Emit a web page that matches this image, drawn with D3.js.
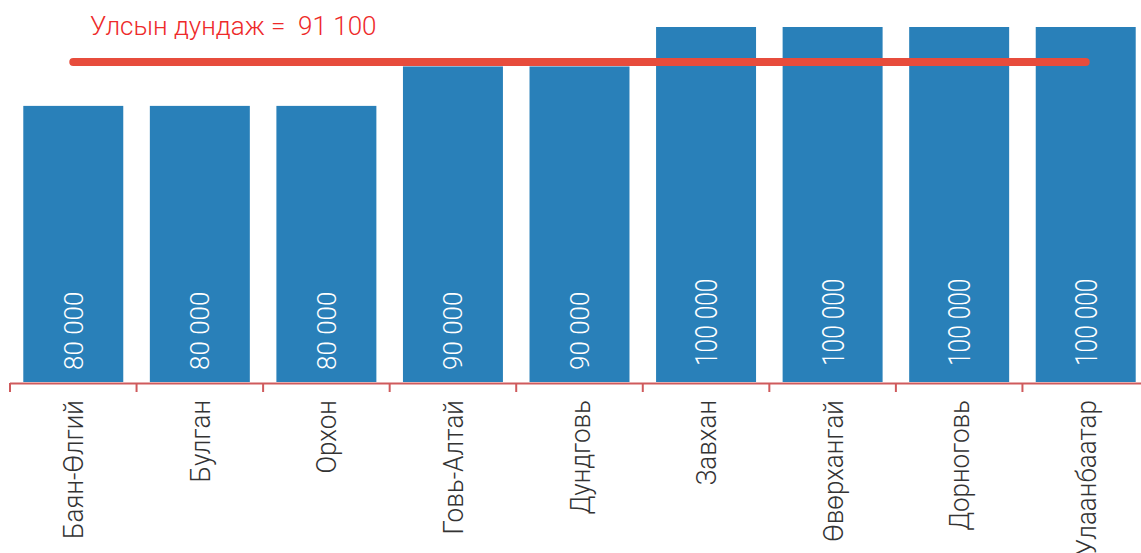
<!DOCTYPE html>
<html>
<head>
<meta charset="utf-8">
<script src="https://cdn.jsdelivr.net/npm/d3@7"></script>
<style>
  html, body { margin: 0; padding: 0; background: #ffffff; }
  svg { display: block; }
  text { font-family: Roboto, "Noto Sans", sans-serif; }
</style>
</head>
<body>
<svg id="chart" width="1141" height="553"></svg>
<script>
const categories = ["Баян-Өлгий", "Булган", "Орхон", "Говь-Алтай", "Дундговь", "Завхан", "Өвөрхангай", "Дорноговь", "Улаанбаатар"];
const values = [80000, 80000, 80000, 90000, 90000, 100000, 100000, 100000, 100000];
const valueLabels = ["80 000", "80 000", "80 000", "90 000", "90 000", "100 000", "100 000", "100 000", "100 000"];
const nationalAverage = 91100;
const averageLabel = "Улсын дундаж =  91 100";

const svg = d3.select("#chart");
const W = 1141, H = 553;
const baseline = 382;

const x = d3.scaleBand()
  .domain(categories)
  .range([10, 1149])
  .paddingInner(0.21)
  .paddingOuter(0.105);

const y = d3.scaleLinear()
  .domain([10000, 100000])
  .range([baseline, 27]);

const data = categories.map((c, i) => ({ c, v: values[i], label: valueLabels[i] }));

// bars
svg.append("g").selectAll("rect")
  .data(data).join("rect")
  .attr("x", d => x(d.c))
  .attr("y", d => y(d.v))
  .attr("width", x.bandwidth())
  .attr("height", d => baseline - y(d.v))
  .attr("fill", "#2980b9");

// value labels inside bars (longer labels drawn taller but condensed)
function valueStyle(label) {
  return label.length > 6 ? { size: 31, sx: 0.79, off: 11, bottom: 16 } : { size: 26, sx: 1, off: 9.3, bottom: 12 };
}
svg.append("g").selectAll("text")
  .data(data).join("text")
  .attr("transform", d => {
    const s = valueStyle(d.label);
    return `translate(${x(d.c) + x.bandwidth() / 2 + s.off},${baseline - s.bottom}) rotate(-90) scale(${s.sx},1)`;
  })
  .attr("text-anchor", "start")
  .attr("fill", "#ffffff")
  .attr("font-size", d => valueStyle(d.label).size)
  .attr("font-weight", 300)
  .text(d => d.label);

// axis
const axisColor = "#cf5a5c";
const step = x.step();
const boundaries = categories.map(c => x(c) - (step - x.bandwidth()) / 2);
boundaries.push(boundaries[boundaries.length - 1] + step);
const axisG = svg.append("g");
axisG.append("line")
  .attr("x1", boundaries[0]).attr("x2", W)
  .attr("y1", baseline + 1.5).attr("y2", baseline + 1.5)
  .attr("stroke", axisColor).attr("stroke-width", 2);
axisG.selectAll("line.tick")
  .data(boundaries).join("line")
  .attr("class", "tick")
  .attr("x1", d => d).attr("x2", d => d)
  .attr("y1", baseline + 1).attr("y2", baseline + 10)
  .attr("stroke", axisColor).attr("stroke-width", 2);

// category labels
svg.append("g").selectAll("text")
  .data(categories).join("text")
  .attr("transform", c => `translate(${x(c) + x.bandwidth() / 2 + 10},${baseline + 18}) rotate(-90) scale(0.93,1)`)
  .attr("text-anchor", "end")
  .attr("fill", "#333333")
  .attr("font-size", 28)
  .attr("font-weight", 300)
  .text(c => c);

// national average line
svg.append("line")
  .attr("x1", x(categories[0]) + x.bandwidth() / 2)
  .attr("x2", x(categories[categories.length - 1]) + x.bandwidth() / 2)
  .attr("y1", y(nationalAverage)).attr("y2", y(nationalAverage))
  .attr("stroke", "#e74c3c")
  .attr("stroke-width", 8)
  .attr("stroke-linecap", "round");

svg.append("text")
  .attr("x", 90).attr("y", 35)
  .attr("fill", "#ee2a2a")
  .attr("font-size", 26)
  .attr("font-weight", 300)
  .style("white-space", "pre")
  .text(averageLabel);
</script>
</body>
</html>
